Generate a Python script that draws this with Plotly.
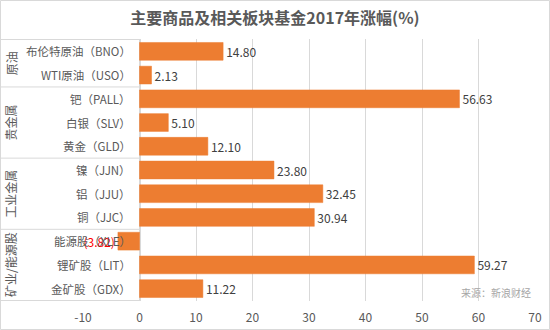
import plotly.graph_objects as go

# Funds and their 2017 returns (%)
categories = ["布伦特原油（BNO）", "WTI原油（USO）", "钯（PALL）", "白银（SLV）", "黄金（GLD）",
              "镍（JJN）", "铝（JJU）", "铜（JJC）", "能源股（XLE）", "锂矿股（LIT）", "金矿股（GDX）"]
returns = [14.80, 2.13, 56.63, 5.10, 12.10, 23.80, 32.45, 30.94, -3.82, 59.27, 11.22]

# Sector groups: name, first index, last index
groups = [("原油", 0, 1), ("贵金属", 2, 4), ("工业金属", 5, 7), ("矿业/能源股", 8, 10)]

x_ticks = [-10, 0, 10, 20, 30, 40, 50, 60, 70]
x_tick_text = [str(t) for t in x_ticks]

FONT = "Noto Sans CJK SC, Noto Sans, sans-serif"
ORANGE = "#ED7D31"
LABEL = "#595959"
LINE = "#D9D9D9"

W, H = 550, 330
ML, MR, MT, MB = 83, 15, 39, 29
PW, PH = W - ML - MR, H - MT - MB
XMIN, XMAX = x_ticks[0], x_ticks[-1]

def px_to_paper_x(px):
    return (px - ML) / PW

def px_to_paper_y(py):
    return (H - MB - py) / PH

zero_paper = (0 - XMIN) / (XMAX - XMIN)

texts = [f"{v:.2f}" if v >= 0 else f"({abs(v):.2f})" for v in returns]
text_colors = ["#404040" if v >= 0 else "#FF0000" for v in returns]

fig = go.Figure(go.Bar(
    x=returns, y=categories, orientation="h",
    marker=dict(color=ORANGE, line=dict(color=ORANGE, width=0.5)),
    text=texts, textposition="outside",
    textfont=dict(family=FONT, size=12, color=text_colors),
    cliponaxis=False, hoverinfo="skip",
))

annotations = []
# category labels sit left of the zero line
for c in categories:
    annotations.append(dict(
        x=0, y=c, xref="x", yref="y", text=c, showarrow=False,
        xanchor="right", xshift=-7, font=dict(family=FONT, size=11.5, color=LABEL),
    ))

shapes = []
bounds = [-0.5]
for name, i0, i1 in groups:
    annotations.append(dict(
        x=px_to_paper_x(11), y=(i0 + i1) / 2, xref="paper", yref="y", text=name,
        showarrow=False, textangle=-90, xanchor="center", yanchor="middle",
        font=dict(family=FONT, size=12, color=LABEL),
    ))
    bounds.append(i1 + 0.5)

for b in bounds:
    shapes.append(dict(type="line", xref="paper", yref="y",
                       x0=px_to_paper_x(0), x1=zero_paper, y0=b, y1=b,
                       line=dict(color=LINE, width=1)))

# outer frame
shapes.append(dict(type="rect", xref="paper", yref="paper",
                   x0=px_to_paper_x(0.5), x1=px_to_paper_x(W - 0.5),
                   y0=px_to_paper_y(H - 0.5), y1=px_to_paper_y(0.5),
                   line=dict(color=LINE, width=1), layer="below"))

annotations.append(dict(
    x=px_to_paper_x(533), y=px_to_paper_y(292), xref="paper", yref="paper", text="来源：新浪财经",
    showarrow=False, xanchor="right", yanchor="middle",
    font=dict(family=FONT, size=10, color="#A6A6A6"),
))

fig.update_layout(
    width=W, height=H,
    margin=dict(l=ML, r=MR, t=MT, b=MB, autoexpand=False),
    paper_bgcolor="white", plot_bgcolor="white",
    showlegend=False, bargap=0.25,
    title=dict(text="<b>主要商品及相关板块基金2017年涨幅(%)</b>",
               x=0.5, xanchor="center", y=1 - 18 / H, yanchor="middle",
               font=dict(family=FONT, size=16, color=LABEL)),
    xaxis=dict(range=[XMIN, XMAX], tickvals=x_ticks, ticktext=x_tick_text,
               showgrid=True, gridcolor=LINE, automargin=False,
               gridwidth=1, zeroline=True, zerolinecolor=LINE, showline=False,
               ticklabelstandoff=8,
               tickfont=dict(family=FONT, size=12, color=LABEL), ticks="", fixedrange=True),
    yaxis=dict(categoryorder="array", categoryarray=categories, autorange="reversed",
               showticklabels=False, showgrid=False, zeroline=False, showline=False,
               ticks="", fixedrange=True, automargin=False),
    annotations=annotations, shapes=shapes,
)

fig.write_html("out.html")
